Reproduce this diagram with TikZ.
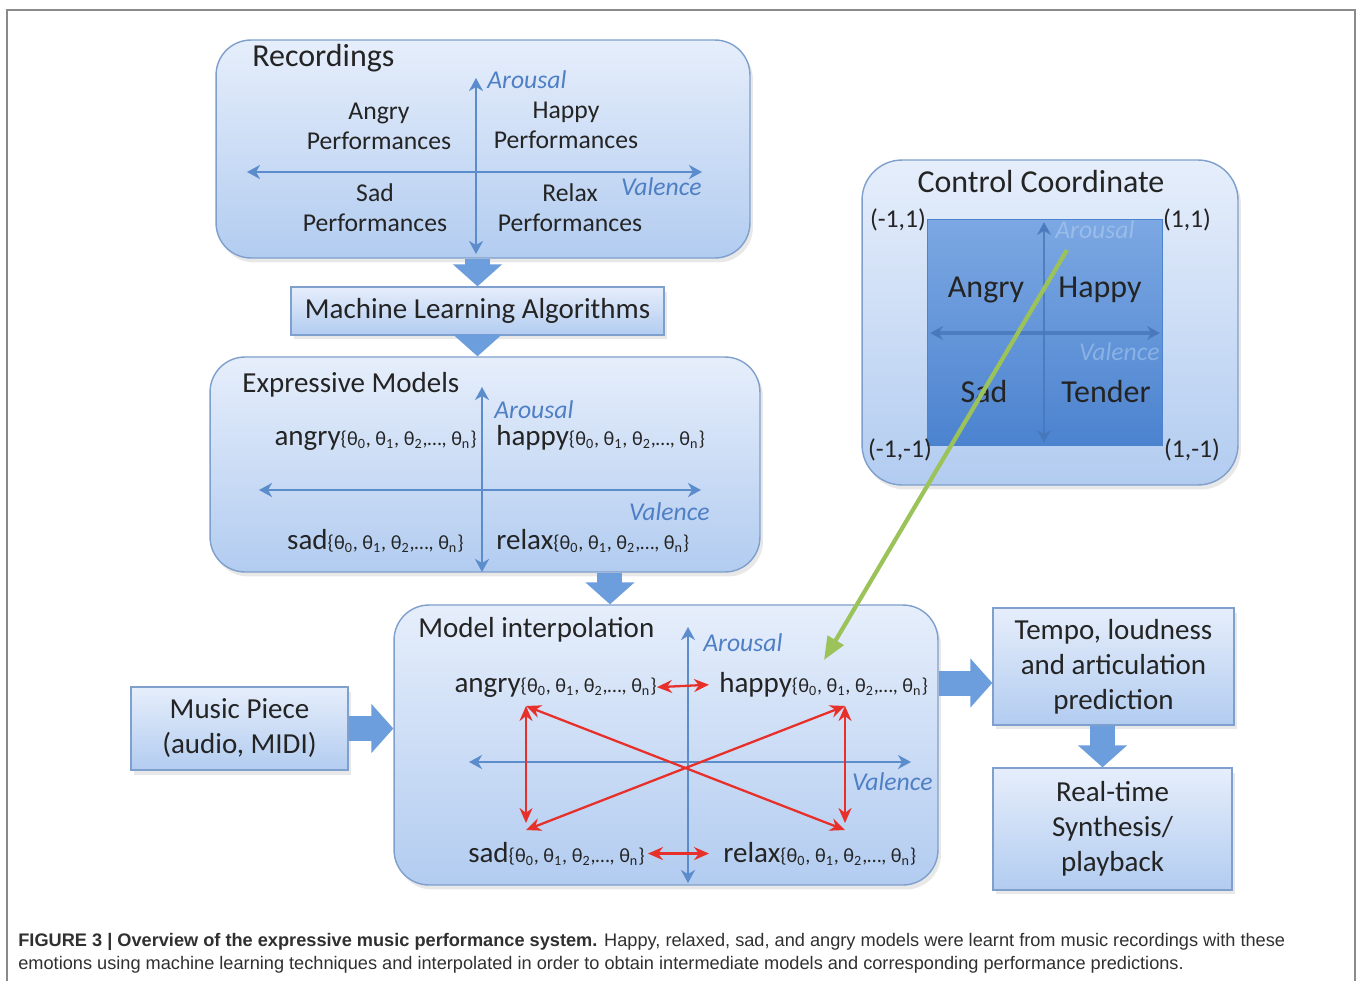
\documentclass[tikz,border=0pt]{standalone}
\usepackage{fontspec}
\setmainfont{Carlito}
\newfontfamily\capfont{Liberation Sans}
\usetikzlibrary{arrows.meta, positioning, shadows}
\definecolor{boxtop}{HTML}{E6EEFB}
\definecolor{boxbot}{HTML}{B2CCF0}
\definecolor{boxline}{HTML}{7F9FCC}
\definecolor{axisblue}{HTML}{5B8CCB}
\definecolor{labelblue}{HTML}{4F7FC4}
\definecolor{sqtop}{HTML}{7CA8E3}
\definecolor{sqbot}{HTML}{4C83CF}
\definecolor{sqaxis}{HTML}{4777BA}
\definecolor{sqlabel}{HTML}{9ABCEB}
\definecolor{arrowblue}{HTML}{6C9DDC}
\definecolor{relred}{HTML}{E8302A}
\definecolor{ctrlgreen}{HTML}{9CC35A}
\definecolor{txt}{HTML}{242424}
\definecolor{captxt}{HTML}{303030}
\definecolor{framegray}{HTML}{8A8A8A}
\newcommand{\sztitle}{\fontsize{18.2}{22}\selectfont}
\newcommand{\szhead}{\fontsize{16.5}{19.9}\selectfont}
\newcommand{\szquad}{\fontsize{14.6}{17}\selectfont}
\newcommand{\params}{{\fontsize{11.5}{13}\selectfont\{θ\textsubscript{0}, θ\textsubscript{1}, θ\textsubscript{2},…, θ\textsubscript{n}\}}}

\begin{document}
\begin{tikzpicture}[x=0.02cm, y=-0.02cm,
    every node/.style={text=txt},
    panel/.style={draw=boxline, line width=0.8pt, rounded corners=0.7cm, top color=boxtop, bottom color=boxbot,
                  inner sep=0pt, drop shadow={opacity=0.18, shadow xshift=0.6mm, shadow yshift=-0.9mm}},
    stepbox/.style={draw=boxline, line width=0.8pt, top color=boxtop, bottom color=boxbot, inner sep=0pt,
                  align=center, font=\szhead, drop shadow={opacity=0.18, shadow xshift=0.6mm, shadow yshift=-0.9mm}},
    title/.style={font=\sztitle, inner sep=0pt},
    head/.style={font=\szhead, inner sep=0pt},
    quad/.style={font=\szquad, align=center, inner sep=0pt},
    model/.style={font=\szhead, inner sep=0pt},
    axlbl/.style={font=\szquad\itshape, text=labelblue, inner sep=0pt},
    axis/.style={{Stealth[length=2.6mm,width=2.8mm,inset=0.8mm]}-{Stealth[length=2.6mm,width=2.8mm,inset=0.8mm]},
                  draw=axisblue, line width=1.5pt},
    barrow/.style={-{Triangle[length=0.44cm,width=0.96cm]}, draw=arrowblue, line width=0.5cm},
    relarr/.style={{Stealth[length=3mm,width=2.6mm]}-{Stealth[length=3mm,width=2.6mm]}, draw=relred, line width=1.3pt},
    ctrlarr/.style={-{Triangle[length=4.6mm,width=3.6mm]}, draw=ctrlgreen, line width=2.4pt},
    capt/.style={font=\capfont\fontsize{10.35}{13}\selectfont, text=captxt, inner sep=0pt}
  ]
  \useasboundingbox[fill=white] (0,0) rectangle (1358,980);
  \draw[framegray, line width=1.2pt] (7,1000) |- (1355,10) -- (1355,1000);

  % recordings
  \node[panel, minimum width=10.68cm, minimum height=4.36cm] (rec) at (483,149) {};
  \node[title, anchor=base west] (rec-title) at (252,67) {Recordings};
  \coordinate (rec-n) at (476,78);  \coordinate (rec-s) at (476,254);
  \coordinate (rec-w) at (247,172); \coordinate (rec-e) at (702,172);
  \draw[axis] (rec-s) -- (rec-n);
  \draw[axis] (rec-w) -- (rec-e);
  \node[axlbl, anchor=west] (rec-arousal) at (487,80) {Arousal};
  \node[axlbl, anchor=east] (rec-valence) at (702,187) {Valence};
  \node[quad] (rec-angry) at (379,126) {Angry\\Performances};
  \node[quad] (rec-happy) at (566,125) {Happy\\Performances};
  \node[quad] (rec-sad)   at (375,208) {Sad\\Performances};
  \node[quad] (rec-relax) at (570,208) {Relax\\Performances};

  % learning step
  \node[stepbox, minimum width=7.46cm, minimum height=0.96cm] (ml) at (477.5,311) {Machine Learning Algorithms};

  % expressive models
  \node[panel, minimum width=11cm, minimum height=4.3cm] (em) at (485,464.5) {};
  \node[head, anchor=base west] (em-title) at (242,392) {Expressive Models};
  \coordinate (em-n) at (482,387); \coordinate (em-s) at (482,572);
  \coordinate (em-w) at (259,490); \coordinate (em-e) at (701,490);
  \draw[axis, line width=1.3pt] (em-s) -- (em-n);
  \draw[axis, line width=1.3pt] (em-w) -- (em-e);
  \node[axlbl, anchor=west] (em-arousal) at (494,410) {Arousal};
  \node[axlbl, anchor=east] (em-valence) at (710,512) {Valence};
  \node[model, anchor=base east] (em-angry) at (477,445) {angry\params};
  \node[model, anchor=base west] (em-happy) at (496,445) {happy\params};
  \node[model, anchor=base east] (em-sad)   at (464,549) {sad\params};
  \node[model, anchor=base west] (em-relax) at (496,549) {relax\params};

  % control coordinate
  \node[panel, rounded corners=0.8cm, minimum width=7.52cm, minimum height=6.5cm] (cc) at (1050,322.5) {};
  \node[title] (cc-title) at (1041,182) {Control Coordinate};
  \node[draw=sqbot, top color=sqtop, bottom color=sqbot, inner sep=0pt,
        minimum width=4.7cm, minimum height=4.52cm] (sq) at (1044.5,332) {};
  \coordinate (sq-n) at (1044,222); \coordinate (sq-s) at (1044,443);
  \coordinate (sq-w) at (930,333);  \coordinate (sq-e) at (1160,333);
  \draw[axis, draw=sqaxis, opacity=0.8, line width=1.1pt] (sq-s) -- (sq-n);
  \draw[axis, draw=sqaxis, opacity=0.8, line width=2pt] (sq-w) -- (sq-e);
  \node[axlbl, text=sqlabel, anchor=west] (sq-arousal) at (1055,230) {Arousal};
  \node[axlbl, text=sqlabel!80!sqbot, anchor=east] (sq-valence) at (1160,352) {Valence};
  \node[title, anchor=base] (sq-angry)  at (986,297)  {Angry};
  \node[title, anchor=base] (sq-happy)  at (1100,297) {Happy};
  \node[title, anchor=base] (sq-sad)    at (984,402)  {Sad};
  \node[title, anchor=base] (sq-tender) at (1106,402) {Tender};
  \node[quad] (cc-tl) at (898,220)  {(-1,1)};
  \node[quad] (cc-tr) at (1187,220) {(1,1)};
  \node[quad] (cc-bl) at (900,450)  {(-1,-1)};
  \node[quad] (cc-br) at (1192,450) {(1,-1)};

  % model interpolation
  \node[panel, minimum width=10.88cm, minimum height=5.6cm] (mi) at (666,745) {};
  \node[head, anchor=base west] (mi-title) at (418,637) {Model interpolation};
  \coordinate (mi-n) at (688,627); \coordinate (mi-s) at (688,883);
  \coordinate (mi-w) at (469,762); \coordinate (mi-e) at (911,762);
  \draw[axis, line width=1.1pt] (mi-s) -- (mi-n);
  \draw[axis, line width=1.1pt] (mi-w) -- (mi-e);
  \node[axlbl, anchor=west] (mi-arousal) at (703,643) {Arousal};
  \node[axlbl, anchor=east] (mi-valence) at (933,782) {Valence};
  \node[model, anchor=base east] (mi-angry) at (657,692) {angry\params};
  \node[model, anchor=base west] (mi-happy) at (719,692) {happy\params};
  \node[model, anchor=base east] (mi-sad)   at (645,862) {sad\params};
  \node[model, anchor=base west] (mi-relax) at (723,862) {relax\params};
  \coordinate (mi-tl) at (526,706); \coordinate (mi-tr) at (845,706);
  \coordinate (mi-bl) at (526,830); \coordinate (mi-br) at (845,830);
  \draw[relarr, shorten >=0.2cm] (mi-angry.east) -- (mi-happy.west);
  \draw[relarr, shorten <=0.06cm, shorten >=0.28cm] (mi-sad.east) -- (mi-relax.west);
  \draw[relarr] (mi-tl) -- ([yshift=0.14cm]mi-bl);
  \draw[relarr] (mi-tr) -- ([yshift=0.14cm]mi-br);
  \draw[relarr] (mi-tl) -- (mi-br);
  \draw[relarr] (mi-tr) -- (mi-bl);

  % input and output steps
  \node[stepbox, minimum width=4.34cm, minimum height=1.66cm] (mp) at (239.5,728.5) {Music Piece\\(audio, MIDI)};
  \node[stepbox, minimum width=4.82cm, minimum height=2.34cm] (tp) at (1113.5,666.5) {Tempo, loudness\\and articulation\\prediction};
  \node[stepbox, minimum width=4.78cm, minimum height=2.44cm] (rt) at (1112.5,829) {Real-time\\Synthesis/\\playback};

  % flow arrows
  \coordinate (em-out) at ([xshift=2.5cm]em.south);
  \coordinate (tp-in) at ([yshift=-0.33cm]tp.west);
  \coordinate (tp-out) at ([xshift=-0.22cm]tp.south);
  \draw[barrow] (ml.north |- rec.south) -- (ml.north);
  \draw[barrow] (ml.south) -- (ml.south |- em.north);
  \draw[barrow] (em-out) -- (em-out |- mi.north);
  \draw[barrow] (mp.east) -- (mp.east -| mi.west);
  \draw[barrow] (tp-in -| mi.east) -- (tp-in);
  \draw[barrow] (tp-out) -- (tp-out |- rt.north);

  % control point
  \coordinate (ctrl-pt) at (1067,250);
  \coordinate (mi-target) at (824,660);
  \draw[ctrlarr] (ctrl-pt) -- (mi-target);

  % caption
  \node[capt, anchor=base west] (cap-a) at (18,946) {\textbf{FIGURE 3 | Overview of the expressive music performance system.} Happy, relaxed, sad, and angry models were learnt from music recordings with these};
  \node[capt, anchor=base west] (cap-b) at (18,969) {emotions using machine learning techniques and interpolated in order to obtain intermediate models and corresponding performance predictions.};
\end{tikzpicture}
\end{document}
